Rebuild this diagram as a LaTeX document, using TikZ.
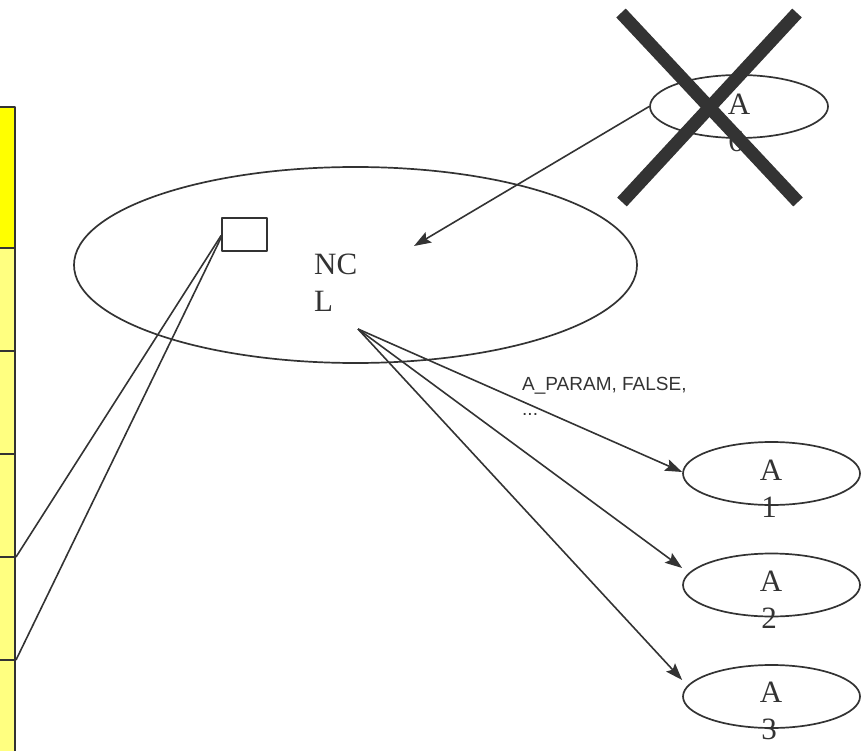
\documentclass[tikz,border=0pt]{standalone}
\usepackage{fontspec}
\setmainfont{Liberation Serif}
\newfontfamily\lsans{Liberation Sans}
\usetikzlibrary{arrows.meta,shapes.geometric}
\definecolor{ink}{HTML}{333333}
\definecolor{ybright}{HTML}{FFFF00}
\definecolor{ylight}{HTML}{FFFF80}
\begin{document}
\begin{tikzpicture}[x=1pt,y=-1pt,line join=round,
  conn/.style={draw=ink,line width=1.6pt},
  arr/.style={conn,-{Stealth[length=17pt,width=12pt,inset=3pt]}},
  oval/.style={draw=ink,line width=1.7pt,ellipse,inner sep=0pt},
  cell/.style={draw=ink,line width=1.8pt},
  serif/.style={font=\fontsize{31}{37}\selectfont,text=ink,inner sep=0pt},
  sans/.style={font=\lsans\fontsize{19}{25}\selectfont,text=ink,inner sep=0pt,align=left},
  cross/.style={draw=ink,line width=13pt}]
\useasboundingbox (0,0) rectangle (867,751);
% yellow column
\begin{scope}
\clip (0,0) rectangle (867,751);
\filldraw[cell,fill=ybright] (-5,107) rectangle (15,248);
\filldraw[cell,fill=ylight] (-5,248) rectangle (15,351);
\filldraw[cell,fill=ylight] (-5,351) rectangle (15,454);
\filldraw[cell,fill=ylight] (-5,454) rectangle (15,557);
\filldraw[cell,fill=ylight] (-5,557) rectangle (15,660);
\filldraw[cell,fill=ylight] (-5,660) rectangle (15,770);
\end{scope}
\coordinate (c4) at (16,557);
\coordinate (c5) at (16,660);
% NCL
\node[oval,minimum width=563pt,minimum height=196pt] (ncl) at (355.5,265) {};
\node[serif,anchor=base west,align=left] (ncltext) at (314,312) {NC\\L};
\node[draw=ink,line width=1.7pt,minimum width=45pt,minimum height=33pt,inner sep=0pt] (box) at (244.5,234.5) {};
\draw[conn] ([yshift=-1pt]box.west) -- (c4);
\draw[conn] ([yshift=-3pt]box.west) -- (c5);
% A nodes
\node[oval,minimum width=178pt,minimum height=63pt] (a6) at (739,106.5) {};
\node[oval,minimum width=177pt,minimum height=63pt] (a1) at (771.5,473.5) {};
\node[oval,minimum width=177pt,minimum height=63pt] (a2) at (771.5,585) {};
\node[oval,minimum width=177pt,minimum height=63pt] (a3) at (771.5,696.5) {};
\node[serif,anchor=base] (t6a) at (739,115) {A};
\node[serif,anchor=base] (t6b) at (736,152) {6};
\node[serif,anchor=base] (t1a) at (771,480) {A};
\node[serif,anchor=base] (t1b) at (769,517) {1};
\node[serif,anchor=base] (t2a) at (771,591) {A};
\node[serif,anchor=base] (t2b) at (769,628) {2};
\node[serif,anchor=base] (t3a) at (771,702) {A};
\node[serif,anchor=base] (t3b) at (769,739) {3};
% connectors
\coordinate (src) at (358,329);
\coordinate (tip) at (414,246);
\draw[arr] (a6.west) -- (tip);
\draw[arr] (src) -- ([yshift=1.5pt]a1.west);
\draw[arr] (src) -- ([yshift=17pt]a2.west);
\draw[arr] (src) -- ([yshift=16.5pt]a3.west);
\node[sans,anchor=base west] (param) at (522,415) {A\_PARAM, FALSE,\\...};
% cross
\draw[cross] (621,13) -- (798,202);
\draw[cross] (797,13) -- (622,202);
\end{tikzpicture}
\end{document}
